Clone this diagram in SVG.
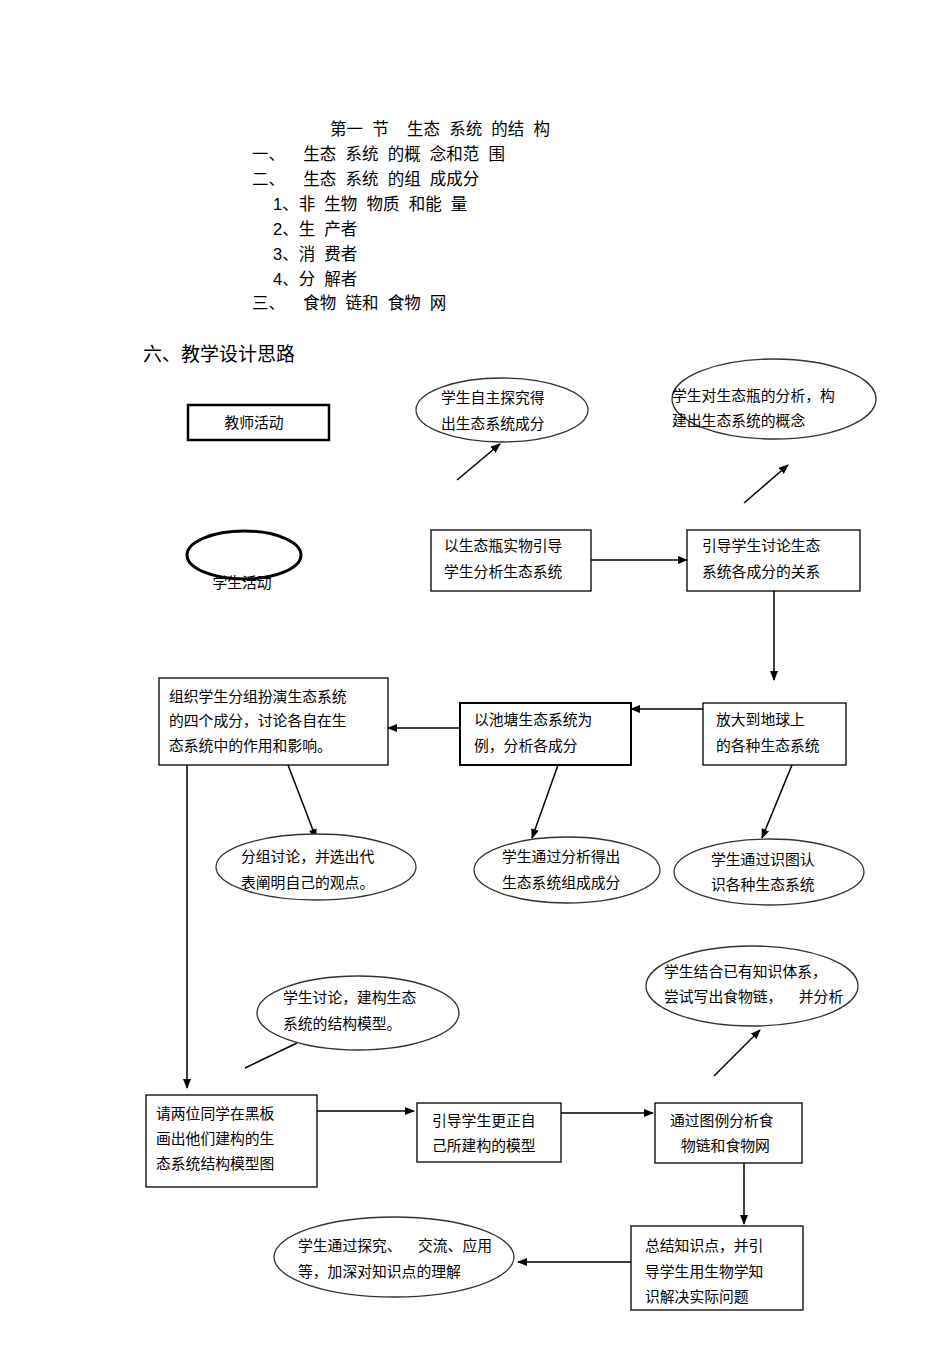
<svg xmlns="http://www.w3.org/2000/svg" width="950" height="1345" viewBox="0 0 950 1345">
<defs>
<marker id="ah" markerWidth="10" markerHeight="8" refX="9" refY="4" orient="auto" markerUnits="userSpaceOnUse"><path d="M0,0 L10,4 L0,8 z" fill="#000"/></marker>
<style>
text{font-family:"Liberation Sans","Noto Sans CJK SC",sans-serif;fill:#000}
.h{font-size:16.5px}
.t{font-size:14.8px}
.b{fill:#fff;stroke:#000;stroke-width:1.3}
.e{fill:#fff;stroke:#333;stroke-width:1.3}
.c{stroke:#000;stroke-width:1.5;fill:none}
</style>
</defs>
<rect width="950" height="1345" fill="#fff"/>
<g id="heading" class="h">
<text x="330" y="135">第一&#160;&#160;节&#160;&#160;&#160;&#160;生态&#160;&#160;系统&#160;&#160;的结&#160;&#160;构</text>
<text x="252" y="160">一、&#160;&#160;&#160;&#160;生态&#160;&#160;系统&#160;&#160;的概&#160;&#160;念和范&#160;&#160;围</text>
<text x="252" y="185">二、&#160;&#160;&#160;&#160;生态&#160;&#160;系统&#160;&#160;的组&#160;&#160;成成分</text>
<text x="273" y="210">1、非&#160;&#160;生物&#160;&#160;物质&#160;&#160;和能&#160;&#160;量</text>
<text x="273" y="235">2、生&#160;&#160;产者</text>
<text x="273" y="260">3、消&#160;&#160;费者</text>
<text x="273" y="285">4、分&#160;&#160;解者</text>
<text x="252" y="309">三、&#160;&#160;&#160;&#160;食物&#160;&#160;链和&#160;&#160;食物&#160;&#160;网</text>
<text x="143" y="361" style="font-size:19px">六、教学设计思路</text>
</g>
<g id="connectors" class="c">
<line x1="457" y1="480" x2="500" y2="444" marker-end="url(#ah)"/>
<line x1="744" y1="503" x2="788" y2="465" marker-end="url(#ah)"/>
<line x1="591" y1="560" x2="687" y2="560" marker-end="url(#ah)"/>
<line x1="774" y1="591" x2="774" y2="680" marker-end="url(#ah)"/>
<line x1="703" y1="709" x2="631" y2="709" marker-end="url(#ah)"/>
<line x1="460" y1="728" x2="388" y2="728" marker-end="url(#ah)"/>
<line x1="288" y1="765" x2="316" y2="838" marker-end="url(#ah)"/>
<line x1="558" y1="765" x2="532" y2="838" marker-end="url(#ah)"/>
<line x1="792" y1="765" x2="762" y2="838" marker-end="url(#ah)"/>
<line x1="187" y1="765" x2="187" y2="1088" marker-end="url(#ah)"/>
<line x1="245" y1="1068" x2="297" y2="1043"/>
<line x1="714" y1="1076" x2="760" y2="1030" marker-end="url(#ah)"/>
<line x1="317" y1="1111" x2="414" y2="1111" marker-end="url(#ah)"/>
<line x1="561" y1="1113" x2="653" y2="1113" marker-end="url(#ah)"/>
<line x1="744" y1="1163" x2="744" y2="1224" marker-end="url(#ah)"/>
<line x1="631" y1="1262" x2="518" y2="1262" marker-end="url(#ah)"/>
</g>
<g id="legend-teacher"><rect x="188" y="405" width="141" height="35" fill="#fff" stroke="#000" stroke-width="2.5"/><text class="t" x="254" y="428" text-anchor="middle">教师活动</text></g>
<g id="legend-student"><ellipse cx="244" cy="555" rx="57" ry="24" fill="none" stroke="#000" stroke-width="3"/><text class="t" x="242" y="588" text-anchor="middle">学生活动</text></g>
<g id="e1"><ellipse class="e" cx="502" cy="410" rx="86" ry="32"/><text class="t" x="441" y="403">学生自主探究得</text><text class="t" x="441" y="429">出生态系统成分</text></g>
<g id="e2"><ellipse class="e" cx="774" cy="399" rx="102" ry="40"/><text class="t" x="672" y="401">学生对生态瓶的分析，构</text><text class="t" x="672" y="426">建出生态系统的概念</text></g>
<g id="bA"><rect class="b" x="431" y="530" width="160" height="61"/><text class="t" x="444" y="551">以生态瓶实物引导</text><text class="t" x="444" y="577">学生分析生态系统</text></g>
<g id="bB"><rect class="b" x="687" y="530" width="173" height="61"/><text class="t" x="702" y="551">引导学生讨论生态</text><text class="t" x="702" y="577">系统各成分的关系</text></g>
<g id="bC"><rect class="b" x="703" y="703" width="143" height="62"/><text class="t" x="716" y="725">放大到地球上</text><text class="t" x="716" y="751">的各种生态系统</text></g>
<g id="bD"><rect x="460" y="703" width="171" height="62" fill="#fff" stroke="#000" stroke-width="2"/><text class="t" x="474" y="725">以池塘生态系统为</text><text class="t" x="474" y="751">例，分析各成分</text></g>
<g id="bE"><rect class="b" x="159" y="678" width="229" height="87"/><text class="t" x="169" y="702">组织学生分组扮演生态系统</text><text class="t" x="169" y="726">的四个成分，讨论各自在生</text><text class="t" x="169" y="751">态系统中的作用和影响。</text></g>
<g id="eF"><ellipse class="e" cx="316" cy="867" rx="100" ry="33"/><text class="t" x="241" y="862">分组讨论，并选出代</text><text class="t" x="241" y="888">表阐明自己的观点。</text></g>
<g id="eG"><ellipse class="e" cx="567" cy="870" rx="93" ry="33"/><text class="t" x="502" y="862">学生通过分析得出</text><text class="t" x="502" y="888">生态系统组成成分</text></g>
<g id="eH"><ellipse class="e" cx="769" cy="872" rx="95" ry="33"/><text class="t" x="711" y="865">学生通过识图认</text><text class="t" x="711" y="890">识各种生态系统</text></g>
<g id="eI"><ellipse class="e" cx="358" cy="1013" rx="101" ry="37"/><text class="t" x="283" y="1003">学生讨论，建构生态</text><text class="t" x="283" y="1029">系统的结构模型。</text></g>
<g id="eJ"><ellipse class="e" cx="752" cy="986" rx="106" ry="40"/><text class="t" x="664" y="977">学生结合已有知识体系，</text><text class="t" x="664" y="1002">尝试写出食物链，&#160;&#160;&#160;&#160;并分析</text></g>
<g id="bK"><rect class="b" x="146" y="1095" width="171" height="92"/><text class="t" x="156" y="1119">请两位同学在黑板</text><text class="t" x="156" y="1144">画出他们建构的生</text><text class="t" x="156" y="1169">态系统结构模型图</text></g>
<g id="bL"><rect class="b" x="417" y="1103" width="144" height="59"/><text class="t" x="432" y="1126">引导学生更正自</text><text class="t" x="432" y="1151">己所建构的模型</text></g>
<g id="bM"><rect class="b" x="655" y="1103" width="147" height="60"/><text class="t" x="670" y="1126">通过图例分析食</text><text class="t" x="681" y="1151">物链和食物网</text></g>
<g id="bN"><rect class="b" x="631" y="1226" width="172" height="84"/><text class="t" x="645" y="1251">总结知识点，并引</text><text class="t" x="645" y="1277">导学生用生物学知</text><text class="t" x="645" y="1302">识解决实际问题</text></g>
<g id="eO"><ellipse class="e" cx="394" cy="1257" rx="120" ry="40"/><text class="t" x="298" y="1251">学生通过探究、&#160;&#160;&#160;&#160;交流、应用</text><text class="t" x="298" y="1277">等，加深对知识点的理解</text></g>
</svg>
